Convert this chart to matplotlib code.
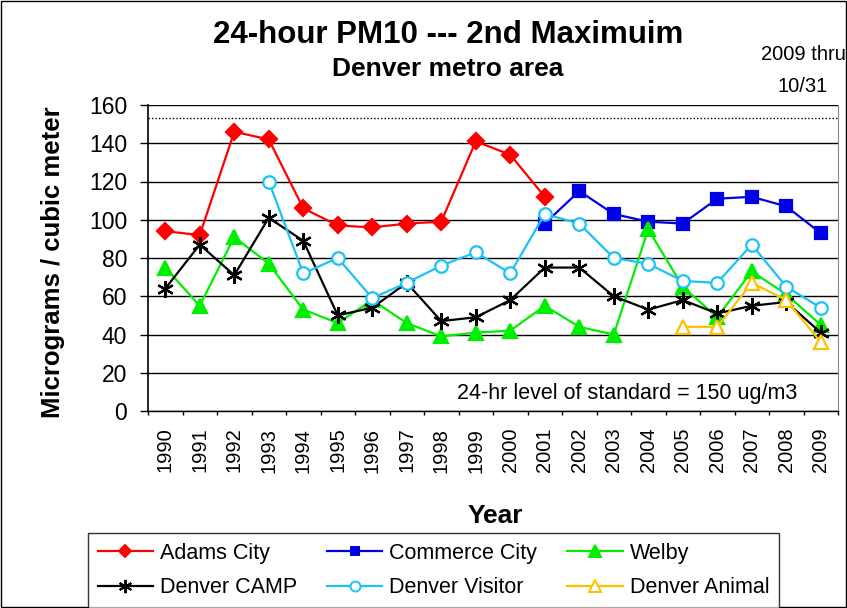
import numpy as np
import matplotlib.pyplot as plt
from matplotlib.lines import Line2D
from matplotlib.patches import Rectangle

plt.rcParams['font.family'] = ['Liberation Sans', 'DejaVu Sans']

years = [str(y) for y in range(1990, 2010)]

# second-max 24-hr PM10 values (None = no monitor)
adams_city = [94, 92, 146, 142, 106, 97, 96, 98, 99, 141, 134, 112,
              None, None, None, None, None, None, None, None]
commerce_city = [None] * 11 + [98, 115, 103, 99, 98, 111, 112, 107, 93]
welby = [75, 55, 91, 77, 53, 46, 58, 46, 39, 41, 42, 55,
         44, 40, 95, 65, 49, 73, 61, 45]
denver_camp = [64, 87, 71, 101, 89, 50, 54, 67, 47, 49, 58, 75,
               75, 60, 53, 58, 51, 55, 57, 41]
denver_visitor = [None, None, None, 120, 72, 80, 59, 67, 76, 83, 72, 103,
                  98, 80, 77, 68, 67, 87, 65, 54]
denver_animal = [None] * 15 + [44, 44, 67, 58, 36]

standard_line = 153

series = [
    ("Adams City", adams_city, "#ff0000", "D", 8, True),
    ("Commerce City", commerce_city, "#0000e6", "s", 8, True),
    ("Welby", welby, "#00ee00", "^", 10, True),
    ("Denver CAMP", denver_camp, "black", (6, 2, 0), 12, True),
    ("Denver Visitor", denver_visitor, "#19c3f5", "o", 9, False),
    ("Denver Animal", denver_animal, "#ffc000", "^", 10, False),
]

W, H = 847, 608
fig = plt.figure(figsize=(W / 100, H / 100), dpi=100)
ax = fig.add_axes([148 / W, 1 - 411 / H, 690 / W, 306 / H])

x = np.arange(len(years))
handles = {}
for name, vals, color, marker, ms, filled in series:
    y = np.array([np.nan if v is None else v for v in vals], dtype=float)
    h, = ax.plot(x, y, color=color, lw=1.6, marker=marker, markersize=ms,
                 markerfacecolor=color if filled else 'white',
                 markeredgecolor=color, markeredgewidth=1.6, zorder=3)
    handles[name] = h

# dotted reference line near the top
ax.axhline(standard_line, color='black', lw=1, ls=(0, (1, 1.5)), zorder=2)

ax.set_ylim(0, 160)
ax.set_xlim(-0.5, len(years) - 0.5)
ax.set_yticks(range(0, 161, 20))
ax.yaxis.grid(True, color='black', lw=1)
ax.set_axisbelow(True)
ax.tick_params(axis='y', labelsize=16.5, length=6, width=1, direction='out', pad=9)

# tick marks between categories, labels at category centres
ax.set_xticks(np.arange(-0.5, len(years), 1))
ax.set_xticklabels([])
ax.tick_params(axis='x', which='major', length=3, width=1, direction='out')
ax.set_xticks(x, minor=True)
ax.set_xticklabels(years, minor=True, rotation=90, fontsize=14.5)
ax.tick_params(axis='x', which='minor', length=0, pad=12)

ax.spines['top'].set_visible(False)
ax.spines['right'].set_color('#888888')
ax.spines['left'].set_linewidth(1.2)
ax.spines['bottom'].set_linewidth(1)

fig.text(797 / W, 1 - 393 / H, "24-hr level of standard = 150 ug/m3",
         ha='right', va='center', fontsize=15.5)

fig.text(53 / W, 1 - 262 / H, "Micrograms / cubic meter", rotation=90,
         ha='center', va='center', fontsize=18.5, fontweight='bold')
fig.text(495 / W, 1 - 516 / H, "Year", ha='center', va='center',
         fontsize=19, fontweight='bold')

fig.text(448 / W, 1 - 35 / H, "24-hour PM10 --- 2nd Maximuim", ha='center',
         va='center', fontsize=22.5, fontweight='bold')
fig.text(448 / W, 1 - 69 / H, "Denver metro area", ha='center', va='center',
         fontsize=19, fontweight='bold')
fig.text(803 / W, 1 - 54 / H, "2009 thru", ha='center', va='center', fontsize=14.5)
fig.text(803 / W, 1 - 86 / H, "10/31", ha='center', va='center', fontsize=14.5)

order = ["Adams City", "Denver CAMP", "Commerce City", "Denver Visitor",
         "Welby", "Denver Animal"]
leg_handles = []
for name in order:
    h = handles[name]
    leg_handles.append(Line2D([], [], color=h.get_color(), lw=1.6,
                              marker=h.get_marker(), markersize=h.get_markersize() * 0.8,
                              markerfacecolor=h.get_markerfacecolor(),
                              markeredgecolor=h.get_markeredgecolor(),
                              markeredgewidth=1.4))
leg = fig.legend(leg_handles, order, ncol=3, loc='upper left',
                 bbox_to_anchor=(88 / W, 1 - 533 / H),
                 fontsize=15.5, frameon=True, fancybox=False,
                 handlelength=2.56, borderaxespad=0, labelspacing=0.64,
                 handletextpad=0.33, borderpad=0.45, columnspacing=1.4)
leg.get_frame().set_edgecolor('black')
leg.get_frame().set_linewidth(1)

fig.patches.append(Rectangle((0.001, 0.001), 0.998, 0.997, transform=fig.transFigure,
                             fill=False, edgecolor='black', lw=1))

fig.savefig("out.png", dpi=100)
